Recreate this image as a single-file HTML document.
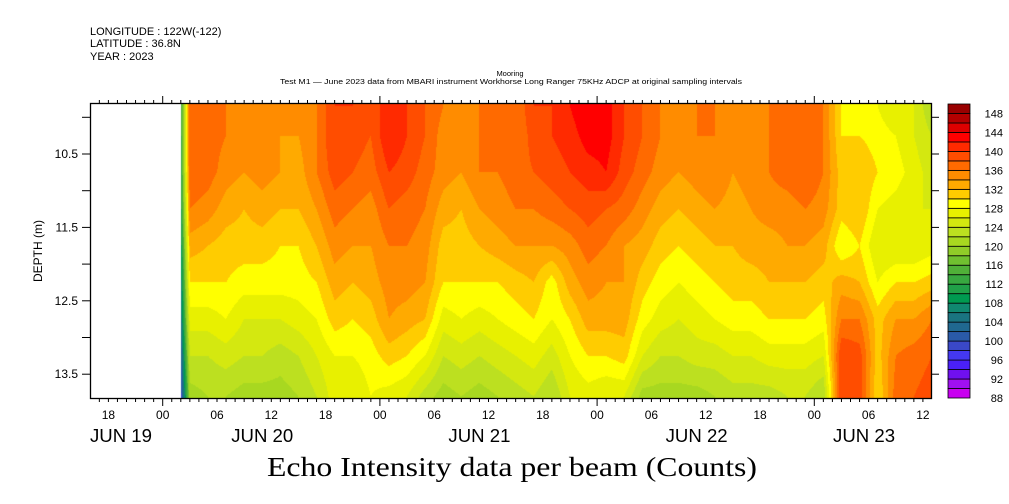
<!DOCTYPE html>
<html><head><meta charset="utf-8">
<style>
html,body{margin:0;padding:0;background:#fff;}
#wrap{position:relative;width:1009px;height:504px;overflow:hidden;font-family:"Liberation Sans",sans-serif;}
#field{position:absolute;left:90px;top:104px;}
#axes{position:absolute;left:0;top:0;}
</style></head>
<body>
<div id="wrap">
<canvas id="field" width="841" height="294"></canvas>
<svg id="axes" width="1009" height="504">
<g font-family="Liberation Sans, sans-serif" font-size="11" fill="#000">
<text x="90" y="35">LONGITUDE : 122W(-122)</text>
<text x="90" y="47">LATITUDE : 36.8N</text>
<text x="90" y="60">YEAR : 2023</text>
<text x="510" y="76" font-size="7.5" text-anchor="middle">Mooring</text>
<text x="511" y="84" font-size="7.5" text-anchor="middle" textLength="462" lengthAdjust="spacingAndGlyphs">Test M1 — June 2023 data from MBARI instrument Workhorse Long Ranger 75KHz ADCP at original sampling intervals</text>
<text x="0" y="0" transform="translate(42,251) rotate(-90)" text-anchor="middle" font-size="12">DEPTH (m)</text>
<text x="512" y="476" text-anchor="middle" font-family="Liberation Serif, serif" font-size="27" textLength="490" lengthAdjust="spacingAndGlyphs">Echo Intensity data per beam (Counts)</text>
</g>
<g id="ticks" stroke="#000" stroke-width="1"></g>
<g id="tlabels" font-family="Liberation Sans, sans-serif" font-size="12" fill="#000"></g>
<g id="cbar"></g>
<rect x="90.5" y="103.5" width="841" height="295" fill="none" stroke="#000" stroke-width="1.3"/>
</svg>
</div>
<script>
// ---- data ----
const hours = [2,3,5,7,9,11,13,15,17,19,21,23,25,27,29,31,33,35,37,39,41,43,45,47,49,51,53,55,57,59,61,63,65,67,69,71,73,75,77,79,81,83,85];
const depths = [9.85,10.25,10.75,11.25,11.75,12.25,12.75,13.25,13.8];
const echo = [
[112,112,111,110,108,106,104,101,98],
[138,138,138,136,133,130,127,124,121],
[136,137,137,135,132,130,127,124,122],
[136,136,135,133,131,130,128,125,122],
[134,134,134,132,131,129,126,124,121],
[134,135,135,133,131,129,126,124,121],
[134,134,134,132,130,129,126,123,121],
[134,134,133,132,130,129,127,124,122],
[136,136,136,134,132,130,128,126,124],
[140,140,139,137,135,133,131,128,127],
[140,139,138,136,134,132,130,128,126],
[138,138,137,135,134,133,131,129,128],
[142,142,140,138,136,135,134,131,127],
[140,140,139,137,136,135,133,130,126],
[138,138,137,136,135,134,132,128,123],
[136,135,135,133,131,130,127,124,121],
[134,134,134,132,131,130,128,125,122],
[136,136,136,134,132,130,127,124,121],
[136,136,136,135,133,130,128,125,122],
[136,136,137,136,134,131,129,126,123],
[140,139,138,136,134,132,130,127,124],
[140,140,139,137,134,129,128,125,122],
[142,141,140,138,135,133,130,128,126],
[144,143,141,139,137,135,133,130,127],
[143,143,142,138,136,134,133,130,126],
[140,140,139,137,134,134,133,131,126],
[138,138,137,135,133,131,129,126,121],
[136,136,135,133,131,129,127,124,121],
[134,135,134,132,130,128,126,124,121],
[136,136,135,133,131,129,127,125,121],
[136,136,136,134,132,130,128,125,122],
[134,135,134,133,132,131,129,126,123],
[134,136,135,134,133,131,129,126,123],
[136,136,136,135,133,132,130,127,123],
[136,137,137,135,134,132,130,127,124],
[138,138,138,136,134,132,130,127,124],
[136,136,136,135,133,131,129,126,122],
[130,130,131,131,128,133,136,140,140],
[128,130,132,132,130,132,136,139,139],
[128,129,130,128,126,128,131,131,130],
[126,128,129,127,126,130,134,136,137],
[126,126,127,126,126,130,134,137,138],
[122,124,125,126,127,131,136,138,139]
];
const levelColors = ['#c800f0','#a010f0','#7010f0','#4a20f8','#4438f0','#3a48c8','#2a5aa8','#206890','#1a7480','#108870','#009a50','#20a048','#38a840','#50b038','#70c030','#90cc28','#a8d820','#bce020','#d4e810','#e8f000','#ffff00','#ffcc00','#ffaa00','#ff8c00','#ff6a00','#ff4d00','#ff2a00','#ff0000','#dd0000','#b30000','#990000'];
const cbarLabels = [88,92,96,100,104,108,112,116,120,124,128,132,136,140,144,148];
const hourTickLabels = ['18','00','06','12','18','00','06','12','18','00','06','12','18','00','06','12'];
const hourTickValues = [-6,0,6,12,18,24,30,36,42,48,54,60,66,72,78,84];
const dayLabels = ['JUN 19','JUN 20','JUN 21','JUN 22','JUN 23'];
const dayLabelHours = [-15.5,11,35,59,77.5];
const depthTicks = [10,10.5,11,11.5,12,12.5,13,13.5];
const depthLabels = ['','10.5','','11.5','','12.5','','13.5'];

// ---- scales ----
const X0=162.7, PXH=9.05, Y0=154, PXM=73.4, PL=90, PT=104, PR=931, PB=398;
const xs = h => X0 + PXH*h;
const ys = d => Y0 + PXM*(d-10.5);
const hx = x => (x-X0)/PXH;
const dy = y => 10.5 + (y-Y0)/PXM;
const LMIN=88, LSTEP=2;
function hexRGB(c){return [parseInt(c.slice(1,3),16),parseInt(c.slice(3,5),16),parseInt(c.slice(5,7),16)];}
const rgbLevels = levelColors.map(hexRGB);

// ---- field ----
(function(){
const cv=document.getElementById('field'),ctx=cv.getContext('2d');
const W=cv.width,H=cv.height,img=ctx.createImageData(W,H),dt=img.data;
for(let py=0;py<H;py++){
  let d=dy(PT+py+0.5);
  d=Math.max(depths[0],Math.min(depths[depths.length-1],d));
  let j=0;while(j<depths.length-2&&d>depths[j+1])j++;
  const fy=(d-depths[j])/(depths[j+1]-depths[j]);
  for(let px=0;px<W;px++){
    const i4=(py*W+px)*4;
    let h=hx(PL+px+0.5);
    if(h<hours[0]){dt[i4]=255;dt[i4+1]=255;dt[i4+2]=255;dt[i4+3]=255;continue;}
    h=Math.min(hours[hours.length-1],h);
    let i=0;while(i<hours.length-2&&h>hours[i+1])i++;
    const fx=(h-hours[i])/(hours[i+1]-hours[i]);
    const a=echo[i][j],b=echo[i+1][j],c=echo[i][j+1],e=echo[i+1][j+1];
    const v=(a*(1-fx)+b*fx)*(1-fy)+(c*(1-fx)+e*fx)*fy;
    let k=Math.floor((v-LMIN)/LSTEP);k=Math.max(0,Math.min(rgbLevels.length-1,k));
    const col=rgbLevels[k];
    dt[i4]=col[0];dt[i4+1]=col[1];dt[i4+2]=col[2];dt[i4+3]=255;
  }
}
ctx.putImageData(img,0,0);
})();

// ---- axes ----
const NS='http://www.w3.org/2000/svg';
function mk(tag,attrs,parent){const el=document.createElementNS(NS,tag);for(const k in attrs)el.setAttribute(k,attrs[k]);parent.appendChild(el);return el;}
const tg=document.getElementById('ticks'),lg=document.getElementById('tlabels');
for(let h=-7;h<=85;h++){
  const x=xs(h);if(x<PL-0.5||x>PR+0.5)continue;
  const major=(h%24===0);
  const len=major?8:4;
  const t1=mk('line',{x1:x,x2:x,y1:PB,y2:PB+len},tg);
  
  
  const t2=mk('line',{x1:x,x2:x,y1:PT,y2:PT-len},tg);
  
  
}
hourTickValues.forEach((h,i)=>{
  const t=mk('text',{x:xs(h),y:419,'text-anchor':'middle'},lg);t.textContent=hourTickLabels[i];
  
  
});
dayLabels.forEach((s,i)=>{
  const t=mk('text',{x:Math.max(PL+31,xs(dayLabelHours[i])),y:442,'text-anchor':'middle','font-size':'18',textLength:'62',lengthAdjust:'spacingAndGlyphs'},lg);t.textContent=s;
  
  
});
depthTicks.forEach((d,i)=>{
  const y=ys(d);
  const l=mk('line',{x1:PL-8,x2:PL,y1:y,y2:y},tg);
  
  
  const r=mk('line',{x1:PR,x2:PR+8,y1:y,y2:y},tg);
  
  
  if(depthLabels[i]){
    const t=mk('text',{x:PL-12,y:y+4,'text-anchor':'end'},lg);t.textContent=depthLabels[i];
    
    
  }
});

// ---- colorbar ----
const cb=document.getElementById('cbar');
const CBX=948,CBW=22,CBT=104,CBB=398,n=levelColors.length,bh=(CBB-CBT)/n;
levelColors.forEach((c,k)=>{
  const y=CBB-(k+1)*bh;
  const r=mk('rect',{x:CBX,y:y,width:CBW,height:bh,fill:c,stroke:'#000','stroke-width':'0.8'},cb);
  
  
});
cbarLabels.forEach(v=>{
  const k=(v-LMIN)/LSTEP;const y=CBB-k*bh;
  const t=mk('text',{x:1003,y:y+4,'text-anchor':'end','font-family':'Liberation Sans, sans-serif','font-size':'11'},cb);t.textContent=v;
  
  
});
</script>
</body></html>
